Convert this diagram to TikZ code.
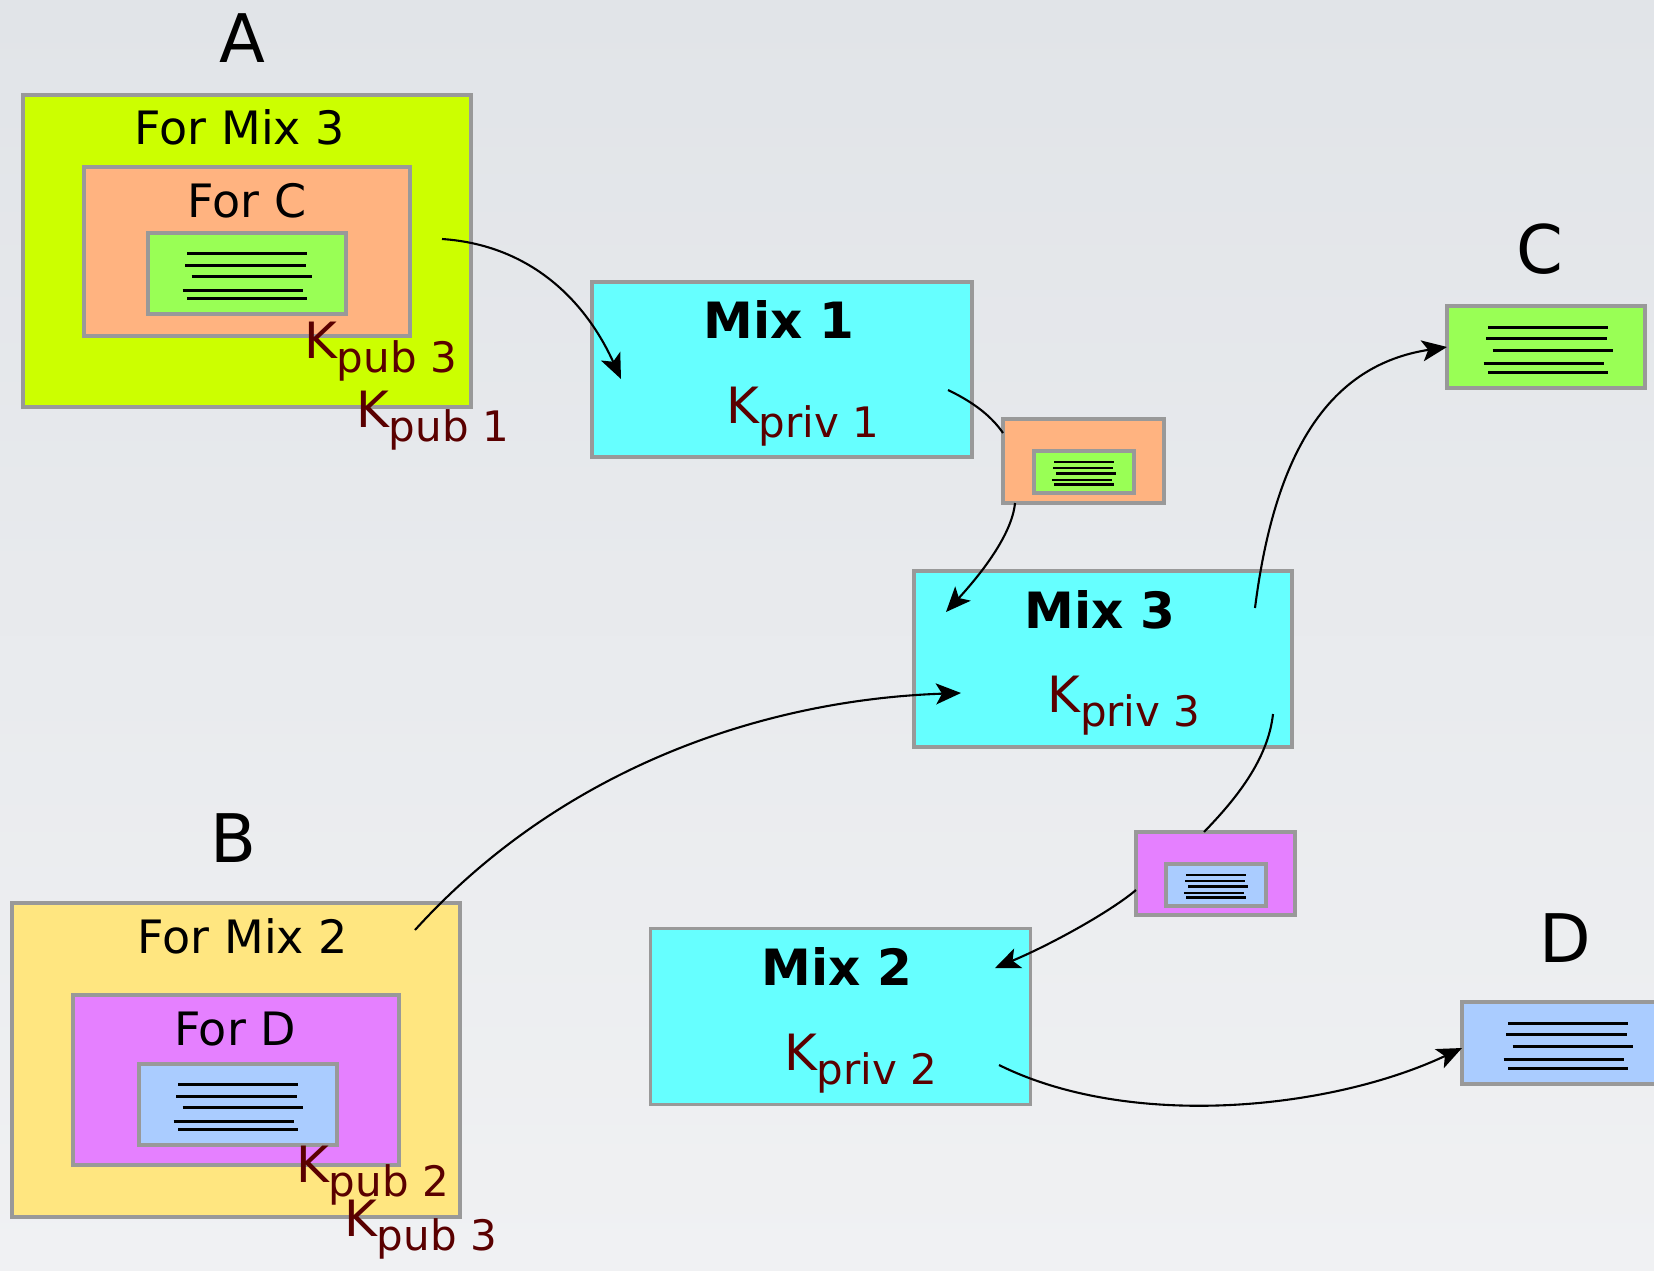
\documentclass[tikz,border=0pt]{standalone}
\usepackage{fontspec}
\setmainfont{DejaVu Sans}
\usetikzlibrary{arrows.meta}
\definecolor{bgtop}{HTML}{E1E4E8}
\definecolor{bgbot}{HTML}{F0F1F3}
\definecolor{bordergray}{HTML}{999999}
\definecolor{limeA}{HTML}{CCFF00}
\definecolor{orangeC}{HTML}{FFB380}
\definecolor{greenM}{HTML}{99FF55}
\definecolor{cyanM}{HTML}{66FFFF}
\definecolor{blueM}{HTML}{AACCFF}
\definecolor{magentaD}{HTML}{E580FF}
\definecolor{yellowB}{HTML}{FFE680}
\definecolor{keyred}{HTML}{5A0000}
\newcommand{\Ksub}[1]{K\raisebox{-14pt}{\fontsize{42}{48}\selectfont #1}}
\begin{document}
\begin{tikzpicture}[x=1pt,y=-1pt,
  box/.style={draw=bordergray, line width=3.2pt, rectangle, inner sep=0pt, outer sep=0pt},
  conn/.style={line width=2.1pt, black},
  arr/.style={conn, -{Stealth[length=25pt,width=21pt,inset=6pt]}},
  lbl/.style={inner sep=0pt, anchor=base, font=\fontsize{46}{54}\selectfont},
  biglbl/.style={inner sep=0pt, anchor=base, font=\fontsize{67}{80}\selectfont},
  mixlbl/.style={inner sep=0pt, anchor=base, font=\bfseries\fontsize{50}{60}\selectfont},
  keylbl/.style={inner sep=0pt, anchor=base west, text=keyred, font=\fontsize{50}{60}\selectfont},
  msg/.pic={
    \draw (-60,-20) -- (60,-20);
    \draw (-62,-8.5) -- (58.7,-8.5);
    \draw (-55.3,3) -- (64.7,3);
    \draw (-64.3,16.5) -- (56.3,16.5);
    \draw (-60,25) -- (60,25);
  }
]
\useasboundingbox (0,0) rectangle (1654,1271);
\shade[top color=bgtop, bottom color=bgbot] (0,0) rectangle (1654,1271);

% ---- A ----
\node[biglbl] (labA) at (242,63) {A};
\node[box, fill=limeA, minimum width=448pt, minimum height=312pt] (Aout) at (247,251) {};
\node[lbl] (tA1) at (240,145) {For Mix 3};
\node[box, fill=orangeC, minimum width=326pt, minimum height=169pt] (Amid) at (247,251.5) {};
\node[lbl] (tA2) at (247,217) {For C};
\node[box, fill=greenM, minimum width=198pt, minimum height=81pt] (Ain) at (247,273.5) {};
\pic[line width=3pt] at (Ain.center) {msg};
\node[keylbl] (kA3) at (304,358) {\Ksub{pub 3}};
\node[keylbl] (kA1) at (356,427) {\Ksub{pub 1}};

% ---- Mix 1 ----
\node[box, fill=cyanM, minimum width=380pt, minimum height=175pt] (M1) at (782,369.5) {};
\node[mixlbl] (tM1) at (779,338) {Mix 1};
\node[keylbl] (kM1) at (726,423) {\Ksub{priv 1}};

% ---- small orange ----
\node[box, fill=orangeC, minimum width=161pt, minimum height=84pt] (O1) at (1083.5,461) {};
\node[box, fill=greenM, minimum width=100pt, minimum height=42pt] (O1in) at (1084,472) {};
\pic[scale=0.5, line width=2.4pt] at (O1in.center) {msg};

% ---- Mix 3 ----
\node[box, fill=cyanM, minimum width=378pt, minimum height=176pt] (M3) at (1103,659) {};
\node[mixlbl] (tM3) at (1100,628) {Mix 3};
\node[keylbl] (kM3) at (1047,712) {\Ksub{priv 3}};

% ---- C ----
\node[biglbl] (labC) at (1540,273) {C};
\node[box, fill=greenM, minimum width=198pt, minimum height=82pt] (Cbox) at (1546,347) {};
\pic[line width=3pt] at ([xshift=2pt]Cbox.center) {msg};

% ---- small magenta ----
\node[box, fill=magentaD, minimum width=159pt, minimum height=83pt] (P1) at (1215.5,873.5) {};
\node[box, fill=blueM, minimum width=100pt, minimum height=42pt] (P1in) at (1216,885) {};
\pic[scale=0.5, line width=2.4pt] at (P1in.center) {msg};

% ---- Mix 2 ----
\node[box, fill=cyanM, minimum width=380pt, minimum height=176pt] (M2) at (840.5,1016.5) {};
\node[mixlbl] (tM2) at (837,985) {Mix 2};
\node[keylbl] (kM2) at (784,1070) {\Ksub{priv 2}};

% ---- D ----
\node[biglbl] (labD) at (1565,962) {D};
\node[box, fill=blueM, minimum width=200pt, minimum height=82pt] (Dbox) at (1562,1043) {};
\pic[line width=3pt] at ([xshift=6pt]Dbox.center) {msg};

% ---- B ----
\node[biglbl] (labB) at (233,862) {B};
\node[box, fill=yellowB, minimum width=448pt, minimum height=314pt] (Bout) at (236,1060) {};
\node[lbl] (tB1) at (243,953) {For Mix 2};
\node[box, fill=magentaD, minimum width=326pt, minimum height=170pt] (Bmid) at (236,1080) {};
\node[lbl] (tB2) at (235,1045) {For D};
\node[box, fill=blueM, minimum width=198pt, minimum height=81pt] (Bin) at (238,1104.5) {};
\pic[line width=3pt] at (Bin.center) {msg};
\node[keylbl] (kB2) at (296,1182) {\Ksub{pub 2}};
\node[keylbl] (kB3) at (344,1236) {\Ksub{pub 3}};

% ---- connector ends ----
\coordinate (a1) at (442,239);
\coordinate (m1in) at (621,379);
\coordinate (m1out) at (948,390);
\coordinate (o1l) at (O1.west |- 0,433);
\coordinate (o1b) at (1015,503);
\coordinate (m3in) at (946,612);
\coordinate (b1) at (415,930);
\coordinate (m3in2) at (961,693);
\coordinate (m3out) at (1255,608);
\coordinate (cin) at (Cbox.west |- 0,347);
\coordinate (m3out2) at (1273,714);
\coordinate (p1t) at (1204,832);
\coordinate (p1l) at (1136,890);
\coordinate (m2in) at (995,968);
\coordinate (m2out) at (999,1065);
\coordinate (din) at (Dbox.west |- 0,1048);

% ---- connectors ----
\draw[arr] (a1) .. controls (530,245) and (585,300) .. (m1in);
\draw[conn] (m1out) .. controls (975,403) and (992,417) .. (o1l);
\draw[arr] (o1b) .. controls (1012,535) and (980,575) .. (m3in);
\draw[arr] (b1) .. controls (560,770) and (760,700) .. (m3in2);
\draw[arr] (m3out) .. controls (1275,450) and (1330,365) .. (cin);
\draw[conn] (m3out2) .. controls (1268,760) and (1235,800) .. (p1t);
\draw[arr] (p1l) .. controls (1110,912) and (1050,945) .. (m2in);
\draw[arr] (m2out) .. controls (1130,1130) and (1330,1110) .. (din);
\end{tikzpicture}
\end{document}
